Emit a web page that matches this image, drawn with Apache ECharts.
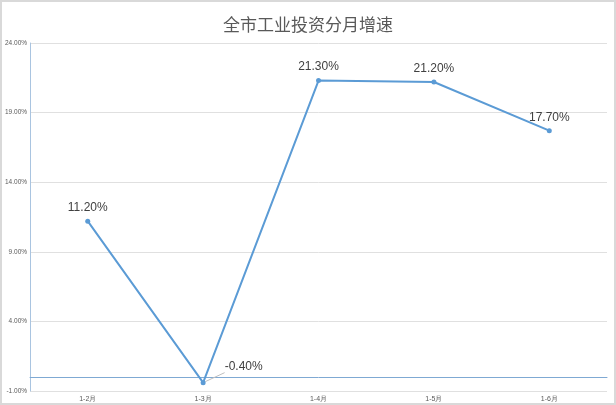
<!DOCTYPE html>
<html>
<head>
<meta charset="utf-8">
<script src="https://cdn.jsdelivr.net/npm/echarts@6/dist/echarts.min.js"></script>
<style>
  html, body { margin: 0; padding: 0; background: #fff; }
  #chart { width: 612px; height: 401px; border: 2px solid #d9d9d9; }
</style>
</head>
<body>
<div id="chart"></div>
<script>
// 全市工业投资分月增速
var months = ['1-2月', '1-3月', '1-4月', '1-5月', '1-6月'];
var growth = [11.2, -0.4, 21.3, 21.2, 17.7];

var chart = echarts.init(document.getElementById('chart'));

chart.setOption({
    animation: false,
    title: {
        text: '全市工业投资分月增速',
        left: 'center',
        top: 9,
        textStyle: { fontSize: 17, fontWeight: 'normal', color: '#595959', fontFamily: 'Noto Sans CJK SC' }
    },
    grid: { left: 28, right: 7, top: 41, bottom: 7 },
    xAxis: {
        type: 'category',
        data: months,
        axisLine: { onZero: true, lineStyle: { color: '#7fa9d3', width: 1 } },
        axisTick: { show: false },
        axisLabel: { fontSize: 7, color: '#595959', margin: 5 }
    },
    yAxis: {
        type: 'value',
        min: -1,
        max: 24,
        interval: 5,
        axisLine: { show: true, lineStyle: { color: '#a9c4e0' } },
        axisTick: { show: false },
        splitLine: { lineStyle: { color: '#e0e0e0' } },
        axisLabel: {
            fontSize: 6.5,
            color: '#595959',
            margin: 3,
            formatter: function (v) { return v.toFixed(2) + '%'; }
        }
    },
    series: [{
        type: 'line',
        data: growth.map(function (v, i) {
            var item = { value: v };
            if (v < 0) {
                item.label = { position: 'right', offset: [14, -16] };
                item.labelLine = { show: true, lineStyle: { color: '#bfbfbf' } };
            }
            return item;
        }),
        symbol: 'circle',
        symbolSize: 5,
        lineStyle: { color: '#5b9bd5', width: 2 },
        itemStyle: { color: '#5b9bd5' },
        label: {
            show: true,
            position: 'top',
            distance: 5,
            fontSize: 12,
            color: '#404040',
            formatter: function (p) { return p.value.toFixed(2) + '%'; }
        }
    }]
});
</script>
</body>
</html>
